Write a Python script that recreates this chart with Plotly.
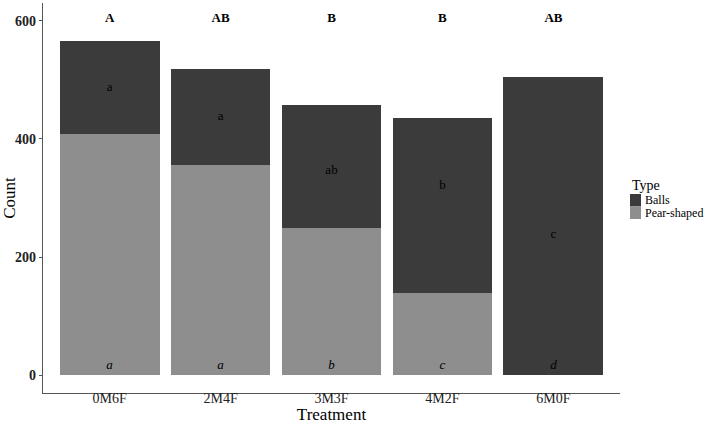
import plotly.graph_objects as go

treatments = ["0M6F", "2M4F", "3M3F", "4M2F", "6M0F"]
pear = [408, 356, 249, 139, 0]
balls = [158, 163, 209, 296, 504]
top_letters = ["A", "AB", "B", "B", "AB"]
top_y = [604, 604, 604, 604, 604]
ball_letters = ["a", "a", "ab", "b", "c"]
ball_y = [487, 437, 346, 320, 237]
pear_letters = ["<i>a</i>", "<i>a</i>", "<i>b</i>", "<i>c</i>", "<i>d</i>"]
pear_y = [16, 16, 16, 16, 16]
legend_labels = ["Balls", "Pear-shaped"]

FONT = "Liberation Serif"
DARK = "#3b3b3b"
LIGHT = "#8e8e8e"
colors = {"Balls": DARK, "Pear-shaped": LIGHT}

fig = go.Figure()
fig.add_trace(go.Bar(x=treatments, y=pear, name="Pear-shaped", marker=dict(color=LIGHT, line=dict(width=0)), showlegend=False))
fig.add_trace(go.Bar(x=treatments, y=balls, name="Balls", marker=dict(color=DARK, line=dict(width=0)), showlegend=False))
fig.add_trace(go.Scatter(x=treatments, y=top_y, mode="text", text=["<b>%s</b>" % t for t in top_letters],
                         textfont=dict(family=FONT, size=13, color="black"), showlegend=False, hoverinfo="skip"))
fig.add_trace(go.Scatter(x=treatments, y=ball_y, mode="text", text=ball_letters,
                         textfont=dict(family=FONT, size=13, color="black"), showlegend=False, hoverinfo="skip"))
fig.add_trace(go.Scatter(x=treatments, y=pear_y, mode="text", text=pear_letters,
                         textfont=dict(family=FONT, size=13, color="black"), showlegend=False, hoverinfo="skip"))

# plot area in pixels: x 43..620, y 3..393
L, R, T, B = 43, 620, 3, 393
def px(x):
    return (x - L) / (R - L)
def py(y):
    return (B - y) / (B - T)

shapes = []
annotations = [dict(text="Type", x=px(630), y=py(185), xref="paper", yref="paper", xanchor="left", yanchor="middle",
                    showarrow=False, font=dict(family=FONT, size=14, color="black"))]
key_top = 194
key_h = 12.5
for i, lab in enumerate(legend_labels):
    y0 = key_top + i * key_h
    shapes.append(dict(type="rect", xref="paper", yref="paper", x0=px(630), x1=px(641), y0=py(y0 + key_h), y1=py(y0),
                       fillcolor=colors[lab], line=dict(width=0)))
    annotations.append(dict(text=lab, x=px(643), y=py(y0 + key_h / 2), xref="paper", yref="paper", xanchor="left",
                            yanchor="middle", showarrow=False, font=dict(family=FONT, size=12, color="black")))

fig.update_layout(
    width=709, height=424,
    barmode="stack", bargap=0.1,
    plot_bgcolor="white", paper_bgcolor="white",
    margin=dict(l=L, r=709 - R, t=T, b=424 - B, autoexpand=False),
    font=dict(family=FONT, color="black"),
    showlegend=False,
    shapes=shapes, annotations=annotations,
)
fig.update_xaxes(
    range=[-0.6, 4.6], showline=True, linecolor="#555", linewidth=1.2, ticks="outside", ticklen=3,
    tickcolor="#555", tickfont=dict(family=FONT, size=14, color="#222"), showgrid=False, zeroline=False,
    ticklabelstandoff=-11,
    title=dict(text="Treatment", font=dict(family=FONT, size=17), standoff=12), automargin=False,
)
fig.update_yaxes(
    range=[-30, 630], tickvals=[0, 200, 400, 600], ticktext=["<b>0</b>", "<b>200</b>", "<b>400</b>", "<b>600</b>"],
    showline=True, linecolor="#555", linewidth=1.2, ticks="outside", ticklen=3,
    tickcolor="#555", tickfont=dict(family=FONT, size=14, color="#222"), showgrid=False, zeroline=False,
    title=dict(text="Count", font=dict(family=FONT, size=17), standoff=0), automargin=False,
)
fig.write_html("out.html")
